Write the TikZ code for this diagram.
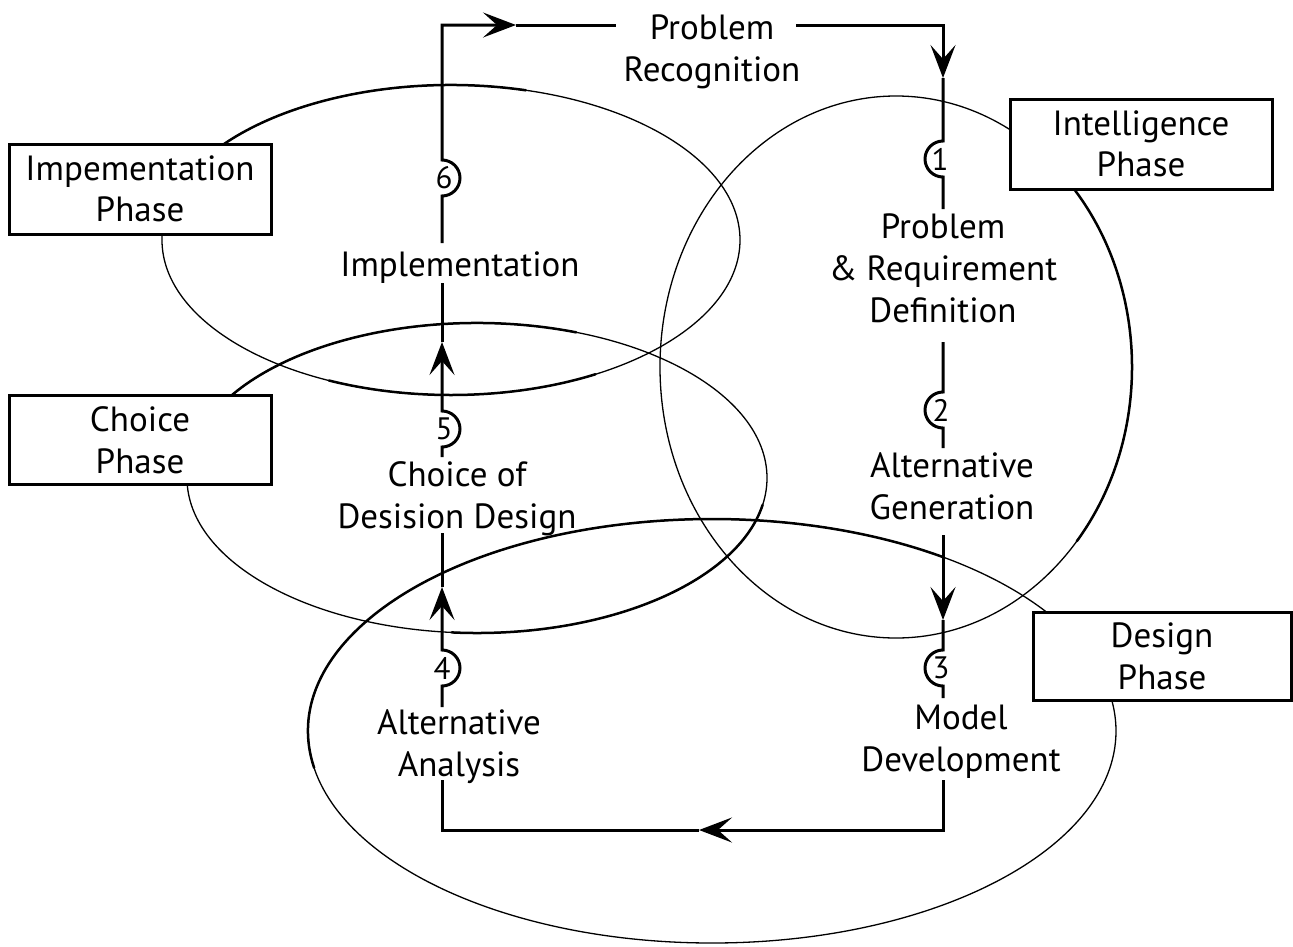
\documentclass[tikz,border=0pt]{standalone}
\usepackage{fontspec}
\setmainfont{PT Sans}
\usetikzlibrary{arrows.meta}
\newcommand{\bigtxt}{\fontsize{35}{42}\selectfont}
\newcommand{\numtxt}{\fontsize{31}{32}\selectfont}
\begin{document}
\begin{tikzpicture}[x=1pt,y=-1pt,
  flow/.style={line width=3pt},
  ell/.style={line width=1.3pt},
  thick ell/.style={line width=2.5pt, line cap=round},
  phase/.style={draw, line width=3pt, fill=white, minimum width=262pt, minimum height=90pt, align=center, font=\bigtxt, inner sep=0pt},
  lbl/.style={align=center, font=\bigtxt, inner sep=0pt},
  num/.style={font=\numtxt, inner sep=0pt},
  arr/.style={-{Stealth[length=33pt,width=25pt,inset=14pt]}}
]
\useasboundingbox (0,0) rectangle (1293,946);
% phase ellipses
\draw[ell] (451,240) ellipse [x radius=289pt, y radius=155pt];
\draw[ell] (477,478) ellipse [x radius=290pt, y radius=155pt];
\draw[ell] (896,367) ellipse [x radius=236pt, y radius=271pt];
\draw[ell] (712,731) ellipse [x radius=404pt, y radius=212pt];
% heavier stretches of the ellipse strokes
\draw[thick ell, shift={(451,240)}] (165:289pt and 155pt) arc[start angle=165, end angle=75, x radius=289pt, y radius=155pt];
\draw[thick ell, shift={(451,240)}] (-115:289pt and 155pt) arc[start angle=-115, end angle=-60, x radius=289pt, y radius=155pt];
\draw[thick ell, shift={(477,478)}] (160:290pt and 155pt) arc[start angle=160, end angle=70, x radius=290pt, y radius=155pt];
\draw[thick ell, shift={(477,478)}] (-95:290pt and 155pt) arc[start angle=-95, end angle=-10, x radius=290pt, y radius=155pt];
\draw[thick ell, shift={(896,367)}] (50:236pt and 271pt) arc[start angle=50, end angle=-40, x radius=236pt, y radius=271pt];
\draw[thick ell, shift={(712,731)}] (190:404pt and 212pt) arc[start angle=190, end angle=55, x radius=404pt, y radius=212pt];
% phase boxes
\node[phase] (IP) at (140,189) {Impementation\\[-1pt]Phase};
\node[phase, minimum height=89pt] (CP) at (140,440) {Choice\\Phase};
\node[phase] (INP) at (1141,144) {Intelligence\\[-1pt]Phase};
\node[phase, minimum width=258pt, minimum height=88pt] (DP) at (1162,656) {Design\\Phase};
% step labels
\node[lbl] (PR) at (712,52) {Problem\\Recognition};
\node[lbl] (IMPL) at (460,268) {Implementation};
\node[lbl] (PRD) at (943,268) {Problem\\\& Requirement\\Definition};
\node[lbl] (AG) at (952,486) {Alternative\\Generation};
\node[lbl] (MD) at (961,742) {Model\\Development};
\node[lbl] (AA) at (459,747) {Alternative\\Analysis};
\node[lbl] (CDD) at (457,499) {Choice of\\Desision Design};
% numbers
\node[num] (n1) at (940,159) {1};
\node[num] (n2) at (941,410) {2};
\node[num] (n3) at (941,668) {3};
\node[num] (n4) at (442,668) {4};
\node[num] (n5) at (444,429) {5};
\node[num] (n6) at (444,178) {6};
% loop corners and cut points
\coordinate (TL) at (442,25);
\coordinate (TR) at (943,25);
\coordinate (BR) at (943,830);
\coordinate (BL) at (442,830);
\coordinate (t1) at (516,25);
\coordinate (t2) at (943,78);
\coordinate (t3) at (943,620);
\coordinate (t4) at (699,830);
\coordinate (t5) at (442,587);
\coordinate (t6) at (442,342);
% right side
\draw[flow,arr] (796,25) -- (TR) -- (t2);
\draw[flow] (t2) -- (943,141) arc[start angle=90,end angle=270,radius=18pt] -- (943,209);
\draw[flow] (943,342) -- (943,392) arc[start angle=90,end angle=270,radius=18pt] -- (943,448);
\draw[flow,arr] (943,535) -- (t3);
\draw[flow] (t3) -- (943,650) arc[start angle=90,end angle=270,radius=18pt] -- (943,698);
\draw[flow,arr] (943,780) -- (BR) -- (t4);
% left side
\draw[flow] (t4) -- (BL) -- (442,780);
\draw[flow,arr] (442,707) -- (442,686) arc[start angle=-90,end angle=90,radius=18pt] -- (t5);
\draw[flow] (t5) -- (442,533);
\draw[flow,arr] (442,457) -- (442,447) arc[start angle=-90,end angle=90,radius=18pt] -- (t6);
\draw[flow] (t6) -- (442,283);
\draw[flow,arr] (442,243) -- (442,196) arc[start angle=-90,end angle=90,radius=18pt] -- (TL) -- (t1);
\draw[flow] (t1) -- (616,25);
\end{tikzpicture}
\end{document}
